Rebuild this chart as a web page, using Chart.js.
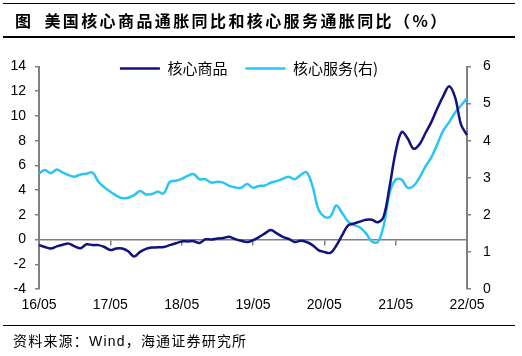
<!DOCTYPE html>
<html><head><meta charset="utf-8">
<script src="https://cdn.jsdelivr.net/npm/chart.js@4"></script>
<style>
html,body{margin:0;padding:0;background:#fff;}
#wrap{position:relative;width:522px;height:356px;overflow:hidden;background:#fff;}
#c{position:absolute;left:0;top:0;}
.rule{position:absolute;left:3px;width:512px;height:1.5px;background:#000;}
#title{position:absolute;left:15px;top:9px;font-family:"Noto Sans CJK SC";font-weight:bold;font-size:16px;line-height:22px;letter-spacing:2.4px;white-space:nowrap;color:#000;}
#title .gap{display:inline-block;width:11px;}
#src{position:absolute;left:13px;top:331px;font-family:"Liberation Sans","Noto Sans CJK SC";font-size:14px;line-height:20px;letter-spacing:1.2px;white-space:nowrap;color:#000;}
</style></head>
<body>
<div id="wrap">
<canvas id="c" width="522" height="356"></canvas>
<div class="rule" style="top:2.5px"></div>
<div id="title">图<span class="gap"></span>美国核心商品通胀同比和核心服务通胀同比（%）</div>
<div class="rule" style="top:36px"></div>
<div class="rule" style="top:324.5px"></div>
<div id="src">资料来源：Wind，海通证券研究所</div>
</div>
<script>
// Categories: monthly, 2016/05 .. 2022/05
const months = [];
for (let k = 0; k < 73; k++) {
  const m = (4 + k) % 12 + 1;
  const yr = 16 + Math.floor((4 + k) / 12);
  months.push(yr + '/' + String(m).padStart(2, '0'));
}
const tickLabels = ['16/05', '17/05', '18/05', '19/05', '20/05', '21/05', '22/05'];
const seriesNames = ['核心商品', '核心服务(右)'];

// 核心商品 (left axis, %)
const coreGoods = [
  -0.45, -0.6, -0.72, -0.55, -0.42, -0.33, -0.55, -0.7, -0.38, -0.45, -0.45, -0.6,
  -0.85, -0.72, -0.72, -0.95, -1.38, -1.0, -0.75, -0.65, -0.63, -0.6, -0.45, -0.3,
  -0.15, -0.15, -0.13, -0.27, 0.02, 0.0, 0.08, 0.13, 0.22, 0.03, -0.1, -0.2,
  -0.05, 0.2, 0.5, 0.78, 0.5, 0.22, 0.05, -0.2, -0.1, -0.2, -0.45, -0.85,
  -1.0, -1.08, -0.5, 0.35, 1.15, 1.3, 1.45, 1.6, 1.6, 1.4, 1.9, 4.35,
  7.1, 8.7, 8.2, 7.35, 7.7, 8.6, 9.5, 10.6, 11.6, 12.4, 11.5, 9.3,
  8.45
];
// 核心服务 (right axis, %)
const coreServices = [
  3.12, 3.21, 3.12, 3.22, 3.14, 3.07, 3.03, 3.09, 3.11, 3.14, 2.89, 2.74,
  2.62, 2.52, 2.45, 2.46, 2.53, 2.64, 2.55, 2.56, 2.62, 2.58, 2.89, 2.92,
  2.97, 3.05, 3.10, 2.96, 2.96, 2.87, 2.89, 2.87, 2.78, 2.74, 2.73, 2.83,
  2.73, 2.78, 2.79, 2.87, 2.91, 2.97, 3.03, 2.96, 3.07, 3.15, 2.78, 2.15,
  1.95, 1.95, 2.25, 2.05, 1.82, 1.72, 1.66, 1.50, 1.28, 1.27, 1.72, 2.6,
  2.95, 2.95, 2.73, 2.78, 3.0, 3.3, 3.55, 3.9, 4.27, 4.5, 4.76, 4.95,
  5.14
];

const AXIS = '#808080';
Chart.defaults.font.family = '"Liberation Sans", Arial, sans-serif';
Chart.defaults.color = '#000';

// Moves the (zero-height) legend box into the top of the plot area and
// gives it a drawable height so it is not clipped.
const legendPlace = {
  id: 'legendPlace',
  afterLayout(chart) {
    const lg = chart.legend;
    if (!lg) return;
    const ca = chart.chartArea;
    lg.top = ca.top - 23.5;
    lg.bottom = lg.top + 40;
    lg.height = 40;
    lg.left -= 4; lg.right -= 4;
  }
};

new Chart(document.getElementById('c'), {
  type: 'line',
  data: {
    labels: months,
    datasets: [
      { label: seriesNames[0], data: coreGoods, yAxisID: 'y', borderColor: '#12137f', backgroundColor: '#12137f', borderWidth: 2.5, pointRadius: 0, tension: 0.35, fill: false },
      { label: seriesNames[1], data: coreServices, yAxisID: 'y1', borderColor: '#2bc5f4', backgroundColor: '#2bc5f4', borderWidth: 2.5, pointRadius: 0, tension: 0.35, fill: false }
    ]
  },
  options: {
    responsive: false,
    animation: false,
    devicePixelRatio: 1,
    layout: { padding: { top: 65.5, bottom: 37, left: 0, right: 0 } },
    plugins: {
      tooltip: { enabled: false },
      legend: {
        position: 'top',
        fullSize: false,
        align: 'center',
        maxHeight: 1,
        labels: {
          usePointStyle: true,
          pointStyle: 'line',
          pointStyleWidth: 40,
          boxHeight: 15,
          padding: 18,
          color: '#000',
          font: { family: '"Noto Sans CJK SC"', size: 15 }
        }
      }
    },
    scales: {
      x: {
        type: 'category',
        position: 'bottom',
        offset: false,
        grid: { display: false, drawTicks: false },
        border: { display: false },
        ticks: {
          autoSkip: false, maxRotation: 0, minRotation: 0, padding: 8,
          font: { size: 14 }, color: '#000',
          callback: (v, i) => tickLabels.includes(months[i]) ? months[i] : ''
        },
        afterFit(s) { s.height = 30; }
      },
      x2: {
        type: 'category',
        position: { y: 0 },
        offset: false,
        ticks: { display: false },
        grid: {
          drawOnChartArea: false, drawTicks: true, tickLength: 5, lineWidth: 1.5,
          color: c => (c.index % 12 === 0 ? AXIS : 'rgba(0,0,0,0)')
        },
        border: { color: AXIS, width: 1.5 }
      },
      y: {
        position: 'left', min: -4, max: 14,
        ticks: { stepSize: 2, padding: 9, font: { size: 14 }, color: '#000' },
        grid: { drawOnChartArea: false, tickLength: 4, color: AXIS, lineWidth: 1.5 },
        border: { color: AXIS, width: 2 },
        afterFit(s) { s.width = 39; }
      },
      y1: {
        position: 'right', min: 0, max: 6,
        ticks: { stepSize: 1, padding: 12, font: { size: 14 }, color: '#000' },
        grid: { drawOnChartArea: false, tickLength: 4, color: AXIS, lineWidth: 1.5 },
        border: { color: AXIS, width: 2 },
        afterFit(s) { s.width = 55; }
      }
    }
  },
  plugins: [legendPlace]
});
</script>
</body></html>
